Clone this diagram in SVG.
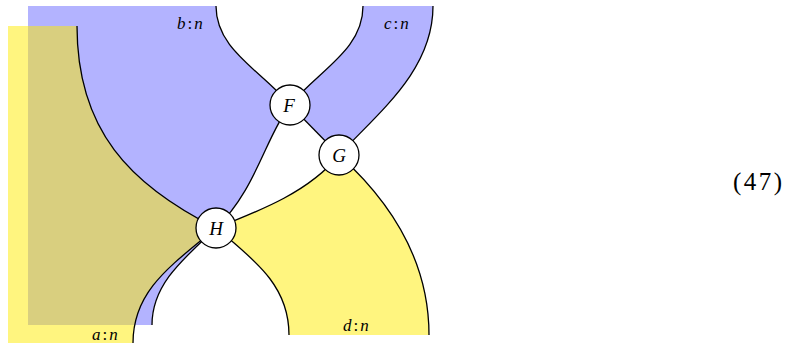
<svg xmlns="http://www.w3.org/2000/svg" width="790" height="343" viewBox="0 0 790 343">
<style>
.blue{fill:#b3b3ff;stroke:none}
.yel{fill:#ffec00;fill-opacity:0.5;stroke:none}
.wire{fill:none;stroke:#000;stroke-width:1.3}
.node circle{fill:#fff;stroke:#000;stroke-width:1.3}
.lbl{font-family:"Liberation Serif",serif;font-size:17px;fill:#000}
.nl{font-family:"Liberation Serif",serif;font-size:19px;font-style:italic;fill:#000}
.it{font-style:italic}
.eq{font-family:"Liberation Serif",serif;font-size:25px;fill:#000}
</style>
<g id="regions">
<path id="region-b" class="blue" d="M28,6 H216 C216,50 261,70 290,105 C266,136 256,190 216,228 C182,260 152,285 152,325 H28 Z"/>
<path id="region-c" class="blue" d="M363,6 C363,50 319,70 290,105 L339,155 C380,111 433,70 433,6 Z"/>
<path id="region-a" class="yel" d="M8,26 H77 C77,130 130,185 216,228 C172,265 133,290 133,343 H8 Z"/>
<path id="region-d" class="yel" d="M216,228 C262,210 310,191 339,155 C390,201 429,260 429,335 H289 C289,290 262,265 216,228 Z"/>
</g>
<g id="connectors">
<path class="wire" d="M77,26 C77,130 130,185 216,228"/>
<path class="wire" d="M216,6 C216,50 261,70 290,105"/>
<path class="wire" d="M363,6 C363,50 319,70 290,105"/>
<path class="wire" d="M433,6 C433,70 380,111 339,155"/>
<path class="wire" d="M290,105 L339,155"/>
<path class="wire" d="M290,105 C266,136 256,190 216,228"/>
<path class="wire" d="M216,228 C262,210 310,191 339,155"/>
<path class="wire" d="M339,155 C390,201 429,260 429,335"/>
<path class="wire" d="M216,228 C262,265 289,290 289,335"/>
<path class="wire" d="M216,228 C172,265 133,290 133,343"/>
<path class="wire" d="M216,228 C182,260 152,285 152,325"/>
</g>
<g id="node-F" class="node"><circle cx="290" cy="105" r="20"/><text class="nl" x="289" y="111.5" text-anchor="middle">F</text></g>
<g id="node-G" class="node"><circle cx="339" cy="155" r="20"/><text class="nl" x="339" y="161.5" text-anchor="middle">G</text></g>
<g id="node-H" class="node"><circle cx="216" cy="228" r="20"/><text class="nl" x="216" y="234.5" text-anchor="middle">H</text></g>
<g id="labels">
<text class="lbl" x="177" y="29"><tspan class="it">b</tspan><tspan dx="2">:</tspan><tspan class="it" dx="2">n</tspan></text>
<text class="lbl" x="384" y="29"><tspan class="it">c</tspan><tspan dx="2">:</tspan><tspan class="it" dx="2">n</tspan></text>
<text class="lbl" x="92" y="340"><tspan class="it">a</tspan><tspan dx="2">:</tspan><tspan class="it" dx="2">n</tspan></text>
<text class="lbl" x="343" y="331"><tspan class="it">d</tspan><tspan dx="2">:</tspan><tspan class="it" dx="2">n</tspan></text>
<text class="eq" x="733" y="190" textLength="49">(47)</text>
</g>
</svg>
